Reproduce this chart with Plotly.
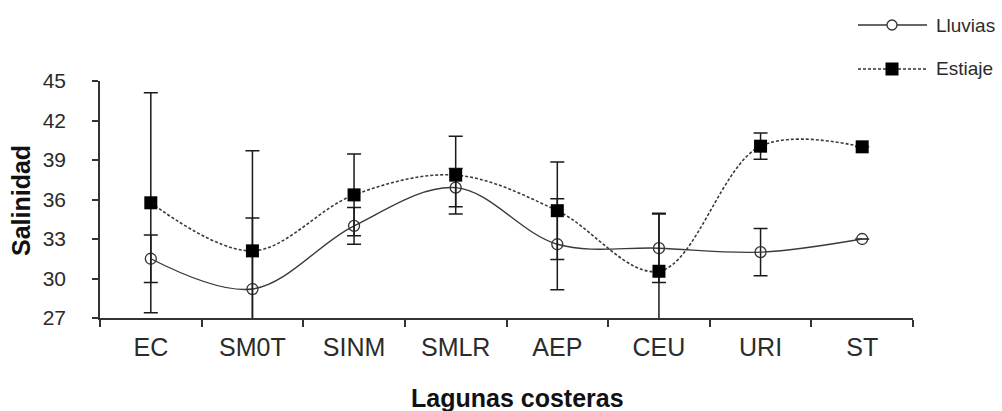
import plotly.graph_objects as go

categories = ["EC", "SM0T", "SINM", "SMLR", "AEP", "CEU", "URI", "ST"]
lluvias = [31.5, 29.2, 34.0, 36.9, 32.6, 32.3, 32.0, 33.0]
lluvias_err = [1.8, 5.4, 1.4, 1.45, 3.45, 2.6, 1.8, None]
estiaje = [35.75, 32.1, 36.35, 37.85, 35.15, 30.55, 40.05, 40.0]
estiaje_err = [8.35, 7.6, 3.1, 2.95, 3.7, 4.4, 1.0, None]
y_ticks = [27, 30, 33, 36, 39, 42, 45]

FONT = "Liberation Sans, Arial, sans-serif"
INK = "#2b2b2b"

fig = go.Figure()
fig.add_trace(go.Scatter(
    x=categories, y=lluvias, name="Lluvias", mode="lines+markers",
    line=dict(color="#3a3a3a", width=1.4, shape="spline", smoothing=1.0),
    marker=dict(symbol="circle-open", size=11, color="#333333", line=dict(width=1.3)),
    error_y=dict(type="data", array=lluvias_err, visible=True, color="#1a1a1a",
                 thickness=1.5, width=7),
    showlegend=False,
))
fig.add_trace(go.Scatter(
    x=categories, y=estiaje, name="Estiaje", mode="lines+markers",
    line=dict(color="#3a3a3a", width=1.6, shape="spline", smoothing=1.0, dash="3px,2px"),
    marker=dict(symbol="square", size=13, color="#000000"),
    error_y=dict(type="data", array=estiaje_err, visible=True, color="#1a1a1a",
                 thickness=1.5, width=7),
    showlegend=False,
))

# custom legend (line segments, marker glyphs, labels)
lx0, lx1, lxc = 858, 927, 892
rows = [(25, "Lluvias"), (69, "Estiaje")]
W, H = 1002, 411
ml, mr, mt, mb = 100, 89, 81, 93
pw, ph = W - ml - mr, H - mt - mb

def px(x):
    return (x - ml) / pw

def py(y):
    return 1 - (y - mt) / ph

shapes = []
shapes.append(dict(type="line", xref="paper", yref="paper", x0=px(lx0), x1=px(lx1),
                   y0=py(25), y1=py(25), line=dict(color="#333333", width=1.4)))
shapes.append(dict(type="circle", xref="paper", yref="paper", xsizemode="pixel", ysizemode="pixel",
                   xanchor=px(lxc), yanchor=py(25), x0=-5, x1=5, y0=-5, y1=5,
                   fillcolor="white", line=dict(color="#333333", width=1.3)))
shapes.append(dict(type="line", xref="paper", yref="paper", x0=px(lx0), x1=px(lx1),
                   y0=py(69), y1=py(69), line=dict(color="#333333", width=1.6, dash="3px,2px")))
shapes.append(dict(type="rect", xref="paper", yref="paper", xsizemode="pixel", ysizemode="pixel",
                   xanchor=px(lxc), yanchor=py(69), x0=-6.5, x1=6.5, y0=-6.5, y1=6.5,
                   fillcolor="black", line=dict(color="black", width=0)))

annotations = []
for yy, label in rows:
    annotations.append(dict(text=label, xref="paper", yref="paper", x=px(934), y=py(yy),
                            xanchor="left", yanchor="middle", showarrow=False,
                            font=dict(family=FONT, size=19, color=INK)))
annotations.append(dict(text="<b>Lagunas costeras</b>", xref="paper", yref="paper",
                        x=px(517), y=py(398), xanchor="center", yanchor="middle", showarrow=False,
                        font=dict(family=FONT, size=25, color="#111111")))
annotations.append(dict(text="<b>Salinidad</b>", xref="paper", yref="paper",
                        x=px(21), y=py(201), xanchor="center", yanchor="middle", showarrow=False,
                        textangle=-90, font=dict(family=FONT, size=25, color="#111111")))

fig.update_layout(
    width=W, height=H,
    margin=dict(l=ml, r=mr, t=mt, b=mb, pad=0),
    paper_bgcolor="white", plot_bgcolor="white",
    font=dict(family=FONT, color=INK),
    shapes=shapes, annotations=annotations,
    xaxis=dict(type="category", range=[-0.5, 7.5], tickson="boundaries",
               ticks="outside", ticklen=7, tickwidth=1.5, tickcolor="#333333",
               showline=True, linecolor="#333333", linewidth=1.5, showgrid=False,
               zeroline=False, tickfont=dict(family=FONT, size=25, color=INK),
               ticklabelstandoff=6),
    yaxis=dict(range=[27, 45], tickvals=y_ticks, ticks="outside", ticklen=6, tickwidth=1.5,
               tickcolor="#333333", showline=True, linecolor="#333333", linewidth=1.5,
               showgrid=False, zeroline=False,
               tickfont=dict(family=FONT, size=21, color=INK), ticklabelstandoff=22),
)

fig.write_html("out.html")
